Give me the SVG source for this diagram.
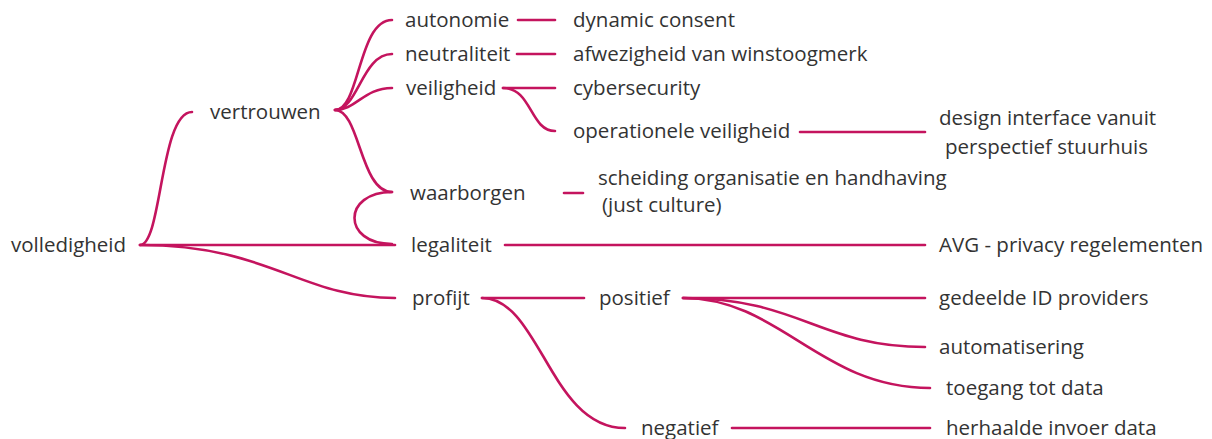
<svg xmlns="http://www.w3.org/2000/svg" width="1212" height="439" viewBox="0 0 1212 439">
  <style>
    .lbl { font-family: "Open Sans", "Liberation Sans", sans-serif; font-size: 20.5px; fill: #333333; }
    .edge { fill: none; stroke: #c4145e; stroke-width: 2.6; stroke-linecap: round; }
  </style>
  <rect width="1212" height="439" fill="#ffffff"/>

  <!-- connectors -->
  <g id="connectors">
    <!-- root branches -->
    <path class="edge" d="M140,245 C162,245 160,112 192,112"/>
    <path class="edge" d="M140,245 L395,245"/>
    <path class="edge" d="M140,245 C270,245 300,298 395,298"/>
    <!-- vertrouwen branches -->
    <path class="edge" d="M335,110 C360,110 358,20 392,20"/>
    <path class="edge" d="M335,110 C358,110 362,54 392,54"/>
    <path class="edge" d="M335,110 C356,110 364,88 392,88"/>
    <path class="edge" d="M335,110 C360,110 360,192 392,192"/>
    <!-- waarborgen / legaliteit bracket -->
    <path class="edge" d="M392,192 C342,192 342,244 392,244"/>
    <!-- second level leaves -->
    <path class="edge" d="M518,20 L555,20"/>
    <path class="edge" d="M517,54 L555,54"/>
    <path class="edge" d="M503,88 L555,88"/>
    <path class="edge" d="M503,88 C532,88 530,131 555,131"/>
    <path class="edge" d="M564,193 L583,193"/>
    <path class="edge" d="M800,132 L925,132"/>
    <path class="edge" d="M505,245 L925,245"/>
    <!-- profijt branches -->
    <path class="edge" d="M482,298 L584,298"/>
    <path class="edge" d="M482,298 C540,298 550,428 625,428"/>
    <path class="edge" d="M683,298 L925,298"/>
    <path class="edge" d="M683,298 C800,298 820,347 925,347"/>
    <path class="edge" d="M683,298 C780,298 820,388 930,388"/>
    <path class="edge" d="M732,428 L930,428"/>
  </g>

  <!-- nodes -->
  <g id="n-volledigheid"><text class="lbl" x="11" y="252">volledigheid</text></g>
  <g id="n-vertrouwen"><text class="lbl" x="210" y="119">vertrouwen</text></g>
  <g id="n-autonomie"><text class="lbl" x="405" y="27">autonomie</text></g>
  <g id="n-neutraliteit"><text class="lbl" x="405" y="61">neutraliteit</text></g>
  <g id="n-veiligheid"><text class="lbl" x="406" y="95">veiligheid</text></g>
  <g id="n-waarborgen"><text class="lbl" x="410" y="200">waarborgen</text></g>
  <g id="n-legaliteit"><text class="lbl" x="411" y="252">legaliteit</text></g>
  <g id="n-profijt"><text class="lbl" x="412" y="305">profijt</text></g>
  <g id="n-dynamic"><text class="lbl" x="573" y="27">dynamic consent</text></g>
  <g id="n-afwezigheid"><text class="lbl" x="573" y="61">afwezigheid van winstoogmerk</text></g>
  <g id="n-cybersecurity"><text class="lbl" x="573" y="95">cybersecurity</text></g>
  <g id="n-operationele"><text class="lbl" x="573" y="138">operationele veiligheid</text></g>
  <g id="n-scheiding">
    <text class="lbl" x="598" y="185">scheiding organisatie en handhaving</text>
    <text class="lbl" x="602" y="212">(just culture)</text>
  </g>
  <g id="n-design">
    <text class="lbl" x="939" y="125">design interface vanuit</text>
    <text class="lbl" x="945" y="154">perspectief stuurhuis</text>
  </g>
  <g id="n-avg"><text class="lbl" x="939" y="252">AVG - privacy regelementen</text></g>
  <g id="n-positief"><text class="lbl" x="599" y="305">positief</text></g>
  <g id="n-negatief"><text class="lbl" x="641" y="435">negatief</text></g>
  <g id="n-gedeelde"><text class="lbl" x="939" y="305">gedeelde ID providers</text></g>
  <g id="n-automatisering"><text class="lbl" x="939" y="354">automatisering</text></g>
  <g id="n-toegang"><text class="lbl" x="946" y="395">toegang tot data</text></g>
  <g id="n-herhaalde"><text class="lbl" x="946" y="435">herhaalde invoer data</text></g>
</svg>
